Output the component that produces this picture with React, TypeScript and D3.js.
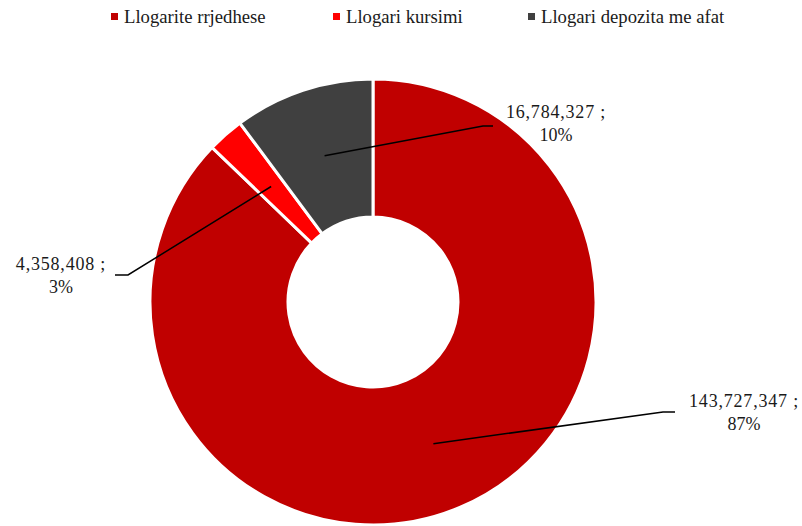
import React from "react";
import * as d3 from "d3";

const categories = ["Llogarite rrjedhese", "Llogari kursimi", "Llogari depozita me afat"];
const values = [143727347, 4358408, 16784327];
const percentLabels = ["87%", "3%", "10%"];
const colors = ["#C00000", "#FF0000", "#404040"];

const W = 802;
const H = 526;
const cx = 373;
const cy = 302;
const outerR = 223;
const innerR = 85;

// text centre/baseline offsets and leader elbow offsets, relative to the donut centre
const labelLayout = [
  { tx: 371, ty: 105, ex: 290, ey: 110, hx: 302 },
  { tx: -312, ty: -32, ex: -245, ey: -27, hx: -258 },
  { tx: 183, ty: -184, ex: 110, ey: -176, hx: 120 },
];

const legendX = [111, 333, 528];

export default function App() {
  const pie = d3.pie<number>().sort(null).value((d) => d);
  const arcs = pie(values);
  const arc = d3.arc<d3.PieArcDatum<number>>().innerRadius(innerR).outerRadius(outerR);
  const midR = (innerR + outerR) / 2;
  const mid = d3.arc<d3.PieArcDatum<number>>().innerRadius(midR).outerRadius(midR);
  const fmt = d3.format(",");
  const font = "Liberation Serif, DejaVu Serif, serif";

  return (
    <svg width={W} height={H} style={{ position: "absolute", left: 0, top: 0 }}>
      <rect width={W} height={H} fill="#fff" />
      <g style={{ fontFamily: font }}>
        {categories.map((c, i) => (
          <g key={c}>
            <rect x={legendX[i]} y={13} width={7} height={7} fill={colors[i]} />
            <text x={legendX[i] + 13} y={23} fontSize={18.7} fill="#1a1a1a">
              {c}
            </text>
          </g>
        ))}
      </g>
      <g transform={`translate(${cx},${cy})`}>
        {arcs.map((a, i) => (
          <path key={i} d={arc(a) || ""} fill={colors[i]} stroke="#fff" strokeWidth={3} />
        ))}
        {arcs.map((a, i) => {
          const [mx, my] = mid.centroid(a);
          const L = labelLayout[i];
          return (
            <g key={"l" + i} style={{ fontFamily: font }} fontSize={18} fill="#1a1a1a">
              <polyline
                points={`${mx},${my} ${L.ex},${L.ey} ${L.hx},${L.ey}`}
                fill="none"
                stroke="#000"
                strokeWidth={1.5}
              />
              <text x={L.tx} y={L.ty} textAnchor="middle" letterSpacing={0.8}>
                {fmt(values[i])} ;
              </text>
              <text x={L.tx} y={L.ty + 23} textAnchor="middle">
                {percentLabels[i]}
              </text>
            </g>
          );
        })}
      </g>
    </svg>
  );
}
